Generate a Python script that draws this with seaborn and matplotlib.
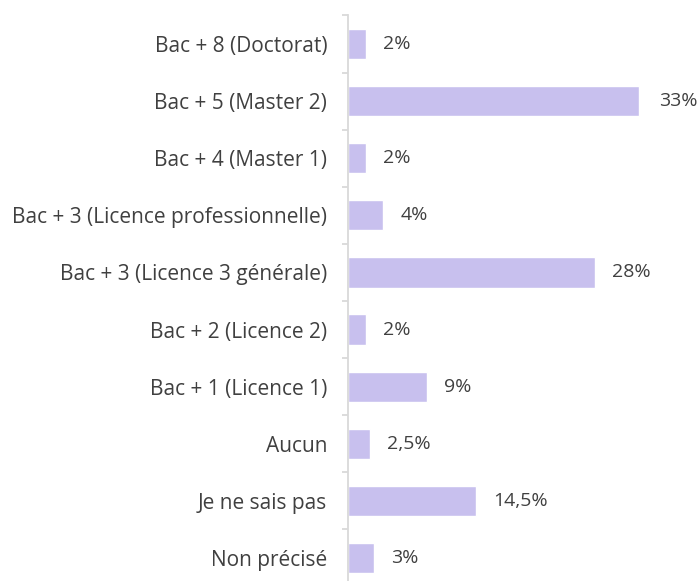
import matplotlib
matplotlib.use('Agg')
import matplotlib.pyplot as plt
import seaborn as sns
import pandas as pd

categories = ['Bac + 8 (Doctorat)', 'Bac + 5 (Master 2)', 'Bac + 4 (Master 1)',
              'Bac + 3 (Licence professionnelle)', 'Bac + 3 (Licence 3 générale)',
              'Bac + 2 (Licence 2)', 'Bac + 1 (Licence 1)', 'Aucun',
              'Je ne sais pas', 'Non précisé']
values = [2, 33, 2, 4, 28, 2, 9, 2.5, 14.5, 3]
labels = ['2%', '33%', '2%', '4%', '28%', '2%', '9%', '2,5%', '14,5%', '3%']

df = pd.DataFrame({'cat': categories, 'val': values})

sns.set_style('white')
plt.rcParams['font.family'] = ['Open Sans', 'DejaVu Sans']

fig = plt.figure(figsize=(6.98, 5.81), dpi=100)
ax = fig.add_axes([348 / 698, -5.5 / 581, 350 / 698, 571 / 581])
sns.barplot(data=df, x='val', y='cat', orient='h', color='#C8C0EE',
            saturation=1, width=0.53, ax=ax)
ax.set_xlim(0, 350 / 8.82)
ax.set_ylim(9.5, -0.5)

for i, (v, lab) in enumerate(zip(values, labels)):
    off = 20 if v == max(values) else 17
    ax.annotate(lab, xy=(v, i), xytext=(off, 0), textcoords='offset pixels',
                ha='left', va='center', fontsize=14, color='#404040',
                annotation_clip=False)

sns.despine(ax=ax, left=False, bottom=True, top=True, right=True)
ax.spines['left'].set_color('#D9D9D9')
ax.spines['left'].set_linewidth(1.3)
ax.set_xticks([])
ax.set_yticks([i + 0.5 for i in range(-1, 10)], minor=True)
ax.tick_params(axis='y', which='major', length=0, pad=15, labelsize=15,
               labelcolor='#404040')
ax.tick_params(axis='y', which='minor', left=True, length=4, width=1.3,
               color='#D9D9D9')
ax.set_xlabel('')
ax.set_ylabel('')

fig.savefig('out.png', dpi=100)
